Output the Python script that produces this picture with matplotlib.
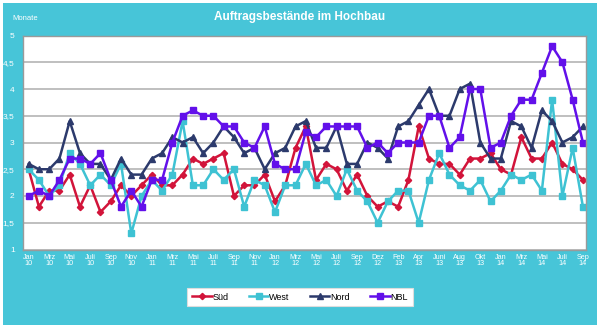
import matplotlib
matplotlib.use("Agg")
import matplotlib.pyplot as plt
from matplotlib.patches import Rectangle

plt.rcParams['font.family'] = ['Liberation Sans', 'DejaVu Sans']

tick_labels = ["Jan\n10", "Mrz\n10", "Mai\n10", "Juli\n10", "Sep\n10", "Nov\n10",
               "Jan\n11", "Mrz\n11", "Mai\n11", "Juli\n11", "Sep\n11", "Nov\n11",
               "Jan\n12", "Mrz\n12", "Mai\n12", "Juli\n12", "Sep\n12", "Dez\n12",
               "Feb\n13", "Apr\n13", "Juni\n13", "Aug\n13", "Okt\n13",
               "Jan\n14", "Mrz\n14", "Mai\n14", "Juli\n14", "Sep\n14"]

sued = [2.5, 1.8, 2.1, 2.1, 2.4, 1.8, 2.2, 1.7, 1.9, 2.2, 2.0, 2.2, 2.4, 2.2, 2.2,
        2.4, 2.7, 2.6, 2.7, 2.8, 2.0, 2.2, 2.2, 2.4, 1.9, 2.2, 2.9, 3.3, 2.3, 2.6,
        2.5, 2.1, 2.4, 2.0, 1.8, 1.9, 1.8, 2.3, 3.3, 2.7, 2.6, 2.6, 2.4, 2.7, 2.7,
        2.8, 2.5, 2.4, 3.1, 2.7, 2.7, 3.0, 2.6, 2.5, 2.3]
west = [2.5, 2.3, 2.0, 2.2, 2.8, 2.6, 2.2, 2.4, 2.2, 2.6, 1.3, 2.0, 2.3, 2.1, 2.4,
        3.4, 2.2, 2.2, 2.5, 2.3, 2.5, 1.8, 2.3, 2.2, 1.7, 2.2, 2.2, 2.6, 2.2, 2.3,
        2.0, 2.5, 2.1, 1.9, 1.5, 1.9, 2.1, 2.1, 1.5, 2.3, 2.8, 2.4, 2.2, 2.1, 2.3,
        1.9, 2.1, 2.4, 2.3, 2.4, 2.1, 3.8, 2.0, 2.9, 1.8]
nord = [2.6, 2.5, 2.5, 2.7, 3.4, 2.8, 2.6, 2.6, 2.3, 2.7, 2.4, 2.4, 2.7, 2.8, 3.1,
        3.0, 3.1, 2.8, 3.0, 3.3, 3.1, 2.8, 2.9, 2.5, 2.8, 2.9, 3.3, 3.4, 2.9, 2.9,
        3.3, 2.6, 2.6, 3.0, 2.9, 2.7, 3.3, 3.4, 3.7, 4.0, 3.5, 3.5, 4.0, 4.1, 3.0,
        2.7, 2.7, 3.4, 3.3, 2.9, 3.6, 3.4, 3.0, 3.1, 3.3]
nbl = [2.0, 2.1, 2.0, 2.3, 2.7, 2.7, 2.6, 2.8, 2.3, 1.8, 2.1, 1.8, 2.3, 2.3, 3.0,
       3.5, 3.6, 3.5, 3.5, 3.3, 3.3, 3.0, 2.9, 3.3, 2.6, 2.5, 2.5, 3.2, 3.1, 3.3,
       3.3, 3.3, 3.3, 2.9, 3.0, 2.8, 3.0, 3.0, 3.0, 3.5, 3.5, 2.9, 3.1, 4.0, 4.0,
       2.9, 3.0, 3.5, 3.8, 3.8, 4.3, 4.8, 4.5, 3.8, 3.0]

series_names = ["Süd", "West", "Nord", "NBL"]
y_ticks = [1, 1.5, 2, 2.5, 3, 3.5, 4, 4.5, 5]

W, H = 600, 328
fig = plt.figure(figsize=(W / 100, H / 100), dpi=100, facecolor='white')
bg = '#47C5D8'
fig.add_artist(Rectangle((3 / W, 1 - 325 / H), 594 / W, 322 / H,
                         transform=fig.transFigure, facecolor=bg, edgecolor='none', zorder=0))

ax = fig.add_axes([23 / W, 1 - 249.5 / H, 563 / W, 214 / H])
ax.set_facecolor('white')
x = list(range(len(sued)))

styles = [
    dict(color='#D2143A', marker='D', ms=3.2),
    dict(color='#3EC2D3', marker='s', ms=4.2),
    dict(color='#2C3A6C', marker='^', ms=4.6),
    dict(color='#6210EA', marker='s', ms=4.2),
]
for data, name, st in zip([sued, west, nord, nbl], series_names, styles):
    ax.plot(x, data, color=st['color'], marker=st['marker'], ms=st['ms'],
            lw=1.8, label=name, mec=st['color'], mfc=st['color'])

ax.set_ylim(1, 5)
ax.set_xlim(-0.55, 54.3)
ax.set_yticks(y_ticks)
ax.set_yticklabels([("%g" % v).replace('.', ',') for v in y_ticks])
ax.yaxis.grid(True, color='#B4B4B4', lw=1.2)
ax.set_axisbelow(True)
ax.set_xticks(x[::2])
ax.set_xticklabels(tick_labels, linespacing=0.95)
ax.tick_params(axis='x', length=0, pad=3, labelsize=5.2, colors='white')
ax.tick_params(axis='y', length=0, pad=6, labelsize=6, colors='white')
for sp in ax.spines.values():
    sp.set_color('#9A9A9A')
    sp.set_linewidth(1)

fig.text(0.5, 1 - 17 / H, "Auftragsbestände im Hochbau", ha='center', va='center',
         color='white', fontsize=8.5, fontweight='bold')
fig.text(12 / W, 1 - 18 / H, "Monate", ha='left', va='center', color='white', fontsize=5.5)

leg = fig.legend(loc='center', bbox_to_anchor=(300 / W, 1 - 297 / H), ncol=4,
                 fontsize=6.5, frameon=True, fancybox=False, handlelength=2.2,
                 columnspacing=2.2, handletextpad=0.1, borderpad=0.5,
                 borderaxespad=0)
leg.get_frame().set_facecolor('white')
leg.get_frame().set_edgecolor('#DDDDDD')
leg.get_frame().set_linewidth(0.8)
leg.get_frame().set_alpha(1)

fig.savefig('out.png', dpi=100, facecolor='white')
